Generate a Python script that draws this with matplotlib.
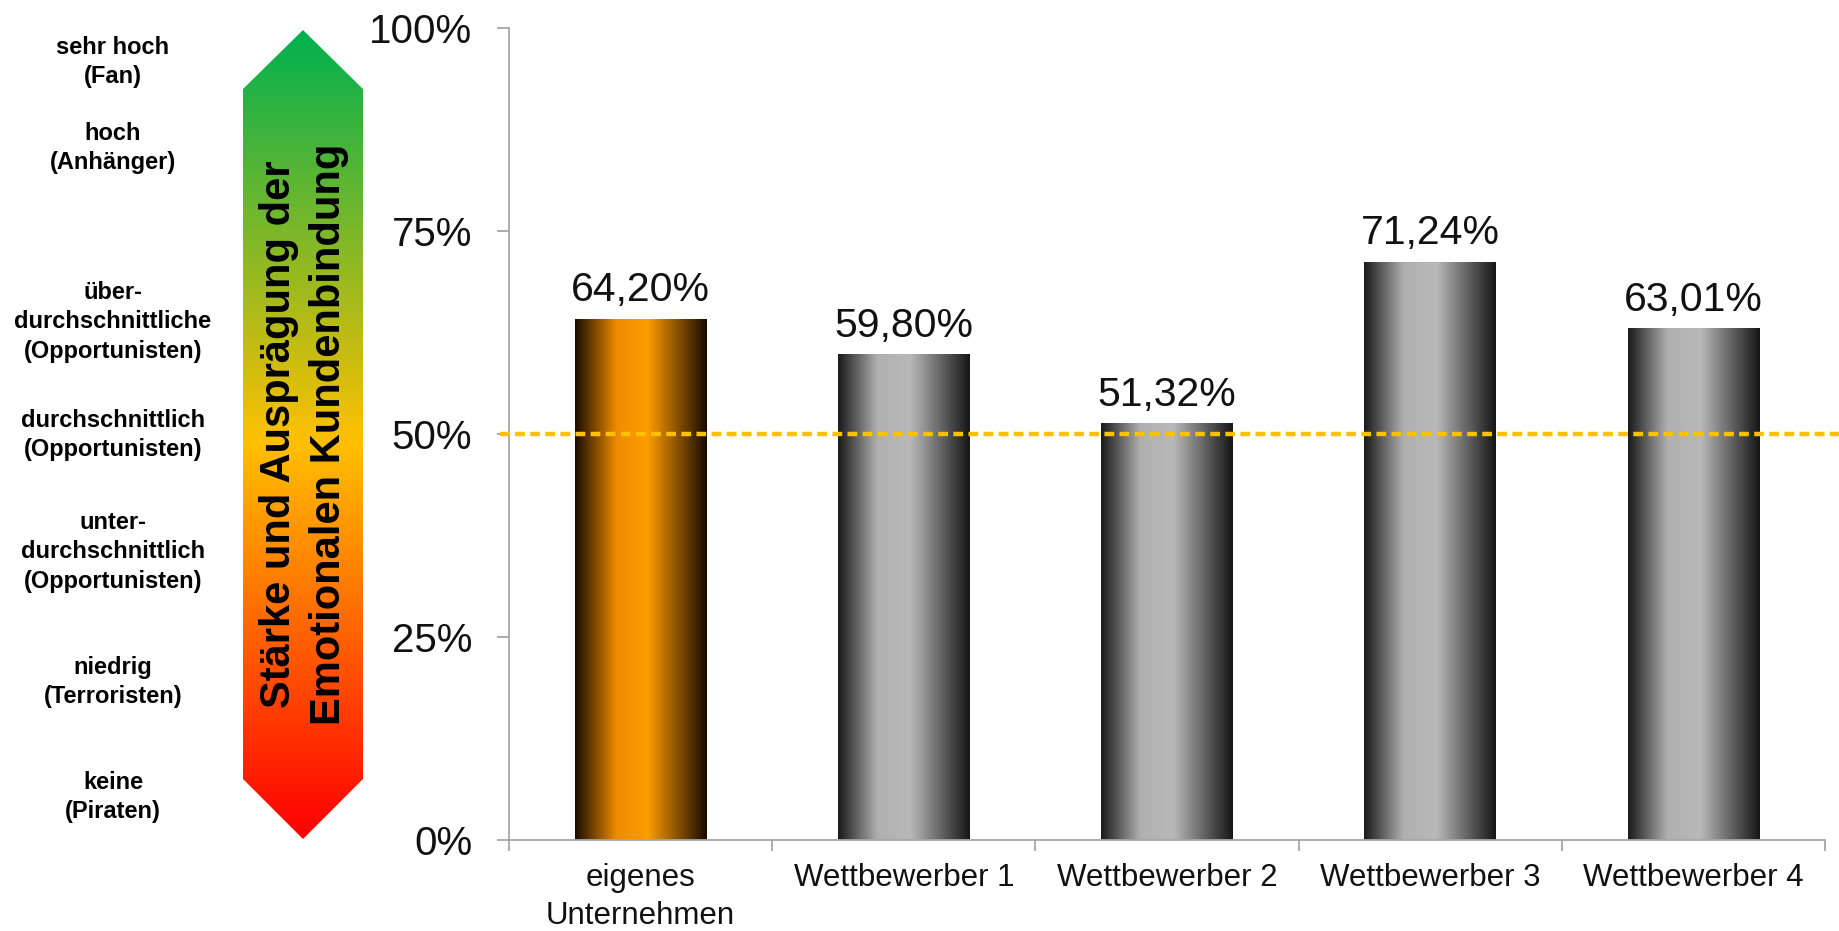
import numpy as np
import matplotlib
matplotlib.use("Agg")
import matplotlib.pyplot as plt
from matplotlib.colors import LinearSegmentedColormap
from matplotlib.patches import Polygon

categories = ["eigenes\nUnternehmen", "Wettbewerber 1", "Wettbewerber 2",
              "Wettbewerber 3", "Wettbewerber 4"]
values = [64.20, 59.80, 51.32, 71.24, 63.01]
value_labels = ["64,20%", "59,80%", "51,32%", "71,24%", "63,01%"]
reference = 50
y_ticks = [0, 25, 50, 75, 100]
y_tick_labels = ["0%", "25%", "50%", "75%", "100%"]

levels = ["sehr hoch\n(Fan)", "hoch\n(Anhänger)",
          "über-\ndurchschnittliche\n(Opportunisten)",
          "durchschnittlich\n(Opportunisten)",
          "unter-\ndurchschnittlich\n(Opportunisten)",
          "niedrig\n(Terroristen)", "keine\n(Piraten)"]
arrow_title = "Stärke und Ausprägung der\nEmotionalen Kundenbindung"

plt.rcParams['font.family'] = ['Liberation Sans', 'DejaVu Sans']

W, H = 1840, 931
fig = plt.figure(figsize=(W / 100, H / 100), dpi=100)

# main bar chart
ax = fig.add_axes([509 / W, 1 - 840 / H, (1825 - 509) / W, (840 - 28) / H])
x = np.arange(len(categories))
bars = ax.bar(x, values, width=0.5, color='none', edgecolor='none', zorder=2)

gray = LinearSegmentedColormap.from_list(
    'g', [(0, '#1a1a1a'), (0.3, '#b0b0b0'), (0.55, '#b8b8b8'), (1, '#161616')])
orange = LinearSegmentedColormap.from_list(
    'o', [(0, '#1a0c00'), (0.32, '#f08c00'), (0.55, '#ff9c00'), (1, '#170a00')])
grad = np.linspace(0, 1, 256).reshape(1, -1)
for i, b in enumerate(bars):
    cmap = orange if i == 0 else gray
    x0, w, h = b.get_x(), b.get_width(), b.get_height()
    im = ax.imshow(grad, cmap=cmap, aspect='auto', extent=(x0, x0 + w, 0, h),
                   zorder=2, interpolation='bilinear')
    im.set_clip_path(b)

ax.bar_label(bars, labels=value_labels, padding=7, fontsize=29.5, color='#111111')

ax.axhline(reference, xmin=-0.007, xmax=1.011, color='#ffc000',
           ls=(0, (2.2, 1.2)), lw=3.2, clip_on=False, zorder=3)

ax.set_xlim(-0.5, len(categories) - 0.5)
ax.set_ylim(0, 100)
ax.set_yticks(y_ticks)
ax.set_yticklabels(y_tick_labels)
ax.set_xticks(x)
ax.set_xticklabels(categories, linespacing=1.35)
ax.set_xticks(np.arange(len(categories) + 1) - 0.5, minor=True)

for s in ['top', 'right']:
    ax.spines[s].set_visible(False)
for s in ['left', 'bottom']:
    ax.spines[s].set_color('#a6a6a6')
    ax.spines[s].set_linewidth(1.3)

ax.tick_params(axis='y', length=8.6, width=1.3, color='#a6a6a6', pad=18,
               labelsize=29, labelcolor='#111111')
ax.tick_params(axis='x', which='major', length=0, pad=16.5, labelsize=22.5,
               labelcolor='#111111')
ax.tick_params(axis='x', which='minor', length=8, width=1.3, color='#a6a6a6')

# left side: arrow and level labels
ov = fig.add_axes([0, 0, 1, 1], zorder=-1)
ov.set_xlim(0, W)
ov.set_ylim(H, 0)
ov.axis('off')

arrow = Polygon([(243, 89), (303, 30), (363, 89), (363, 779), (303, 839), (243, 779)],
                closed=True, facecolor='none', edgecolor='none')
ov.add_patch(arrow)
arrow_cmap = LinearSegmentedColormap.from_list(
    'a', [(0, '#00b050'), (0.51, '#ffc000'), (1, '#ff0000')])
vgrad = np.linspace(0, 1, 256).reshape(-1, 1)
aim = ov.imshow(vgrad, cmap=arrow_cmap, aspect='auto', extent=(243, 363, 839, 30),
                interpolation='bilinear')
aim.set_clip_path(arrow)
ov.set_xlim(0, W)
ov.set_ylim(H, 0)

ov.text(304, 434, arrow_title, rotation=90, ha='center', va='center',
        fontsize=30, fontweight='bold', linespacing=1.34, multialignment='center')

level_y = [62, 148, 322, 435, 552, 682, 797]
for lab, yy in zip(levels, level_y):
    ov.text(113, yy, lab, ha='center', va='center', fontsize=17,
            fontweight='bold', linespacing=1.38, multialignment='center')

fig.savefig("out.png", dpi=100)
